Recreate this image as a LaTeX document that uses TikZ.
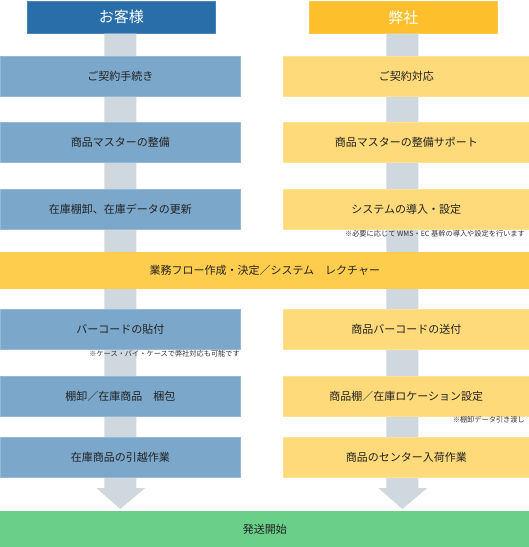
\documentclass[tikz,border=0pt]{standalone}
\usepackage{fontspec}
\setmainfont{Noto Sans CJK JP}
\usetikzlibrary{calc}
\definecolor{hblue}{HTML}{296EA8}
\definecolor{hyel}{HTML}{FDC02C}
\definecolor{lblue}{HTML}{7BA7CA}
\definecolor{lyel}{HTML}{FFDA7A}
\definecolor{band}{HTML}{FFCD4E}
\definecolor{grn}{HTML}{6ACF88}
\definecolor{barc}{HTML}{CFD7DF}
\definecolor{txt}{HTML}{222222}
\definecolor{notec}{HTML}{333333}
\tikzset{
  box/.style={rectangle, inner sep=0pt, anchor=north west, text=txt,
    font=\fontsize{11}{13}\selectfont, line width=0.6pt},
  hdr/.style={box, minimum width=188pt, minimum height=32pt, text=white,
    font=\fontsize{15}{17}\selectfont},
  lbox/.style={box, minimum width=240pt, minimum height=40pt, fill=lblue, draw=lblue!80!white},
  rbox/.style={box, minimum width=246pt, minimum height=40pt, fill=lyel, draw=lyel!80!white},
  wide/.style={box, minimum width=529pt},
  note/.style={inner sep=0pt, text=notec, font=\fontsize{7.2}{8}\selectfont, anchor=east},
  graybar/.style={fill=barc}
}
\begin{document}
\begin{tikzpicture}[x=1pt,y=-1pt]
\useasboundingbox (0,0) rectangle (529,547);
% headers
\node[hdr, fill=hblue, draw=hblue!85!white] (hL) at (27,1) {お客様};
\node[hdr, fill=hyel, draw=hyel!85!white] (hR) at (309,1) {弊社};
% bottom
\node[wide, fill=grn, minimum height=36pt] (G) at (0,511) {発送開始};
% gray flow arrows (behind boxes)
\fill[graybar] let \p1=(hL.south), \p2=(G.north) in
  (\x1-17,\y1) -- (\x1+15,\y1) -- (\x1+15,\y2+23) -- (\x1+24,\y2+23)
  -- (\x1-1,\y2+2) -- (\x1-25,\y2+23) -- (\x1-17,\y2+23) -- cycle;
\fill[graybar] let \p1=(hR.south), \p2=(G.north) in
  (\x1-17,\y1) -- (\x1+15,\y1) -- (\x1+15,\y2+23) -- (\x1+24,\y2+23)
  -- (\x1-1,\y2+2) -- (\x1-25,\y2+23) -- (\x1-17,\y2+23) -- cycle;
% left column
\node[lbox] (L1) at (0,56) {ご契約手続き};
\node[lbox] (L2) at (0,122) {商品マスターの整備};
\node[lbox] (L3) at (0,189) {在庫棚卸、在庫データの更新};
\node[lbox] (L4) at (0,309) {バーコードの貼付};
\node[lbox] (L5) at (0,376) {棚卸／在庫商品\hspace{1em}梱包};
\node[lbox] (L6) at (0,437) {在庫商品の引越作業};
% right column
\node[rbox] (R1) at (283,56) {ご契約対応};
\node[rbox] (R2) at (283,122) {商品マスターの整備サポート};
\node[rbox] (R3) at (283,189) {システムの導入・設定};
\node[rbox] (R4) at (283,309) {商品バーコードの送付};
\node[rbox] (R5) at (283,376) {商品棚／在庫ロケーション設定};
\node[rbox] (R6) at (283,437) {商品のセンター入荷作業};
% band
\node[wide, fill=band, minimum height=37pt] (B) at (0,252) {業務フロー作成・決定／システム\hspace{1em}レクチャー};
% notes
\node[note] (N3) at (525,234) {※必要に応じて WMS・EC 基幹の導入や設定を行います};
\node[note] (N4) at (240,354) {※ケース・バイ・ケースで弊社対応も可能です};
\node[note] (N5) at (525,420) {※棚卸データ引き渡し};
\end{tikzpicture}
\end{document}
